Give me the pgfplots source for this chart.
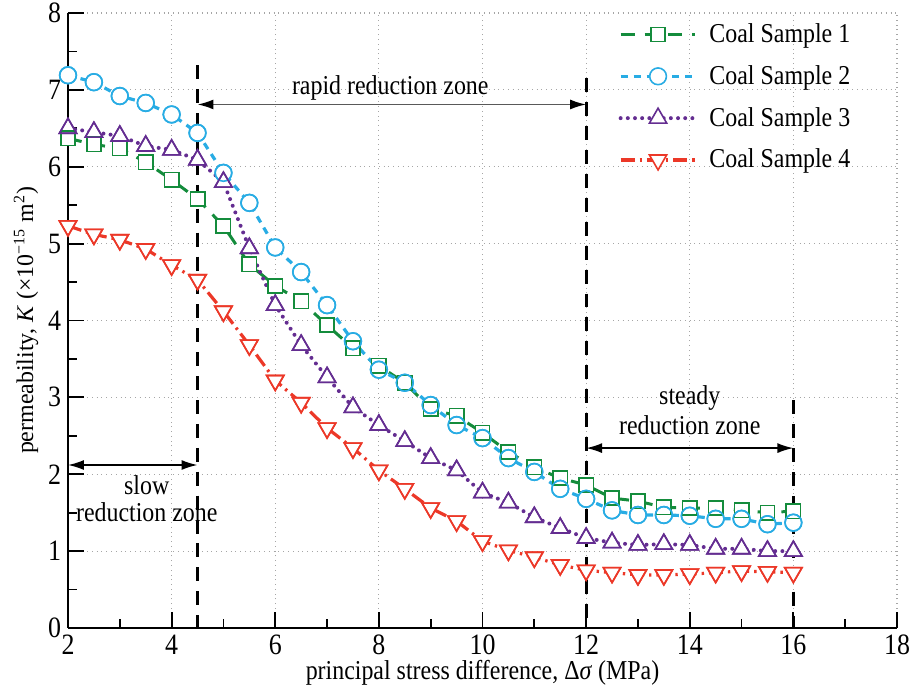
\documentclass[border=0pt]{standalone}
\usepackage{pgfplots}
\pgfplotsset{compat=1.18}
\usepackage{pgfplotstable}
\usepackage{graphicx}
\usepackage{fontspec}
\setmainfont{Liberation Serif}
\usetikzlibrary{arrows.meta}
\newcommand{\ST}[1]{\scalebox{1}[1.14]{#1}}
\definecolor{cgreen}{RGB}{20,140,60}
\definecolor{cblue}{RGB}{40,172,228}
\definecolor{cpurple}{RGB}{100,45,145}
\definecolor{cred}{RGB}{236,56,40}
\pgfplotstableread{
x s1 s2 s3 s4
2 6.37 7.19 6.50 5.23
2.5 6.29 7.10 6.45 5.12
3 6.24 6.92 6.40 5.05
3.5 6.06 6.83 6.27 4.93
4 5.83 6.68 6.22 4.72
4.5 5.58 6.44 6.09 4.53
5 5.23 5.92 5.80 4.12
5.5 4.73 5.53 4.94 3.68
6 4.45 4.95 4.20 3.22
6.5 4.25 4.63 3.68 2.93
7 3.94 4.20 3.26 2.60
7.5 3.64 3.73 2.87 2.34
8 3.41 3.36 2.64 2.05
8.5 3.19 3.19 2.43 1.81
9 2.85 2.90 2.21 1.56
9.5 2.76 2.64 2.05 1.39
10 2.54 2.47 1.76 1.13
10.5 2.29 2.21 1.63 1.01
11 2.09 2.03 1.44 0.92
11.5 1.95 1.81 1.30 0.82
12 1.86 1.68 1.17 0.75
12.5 1.69 1.53 1.11 0.72
13 1.65 1.47 1.08 0.69
13.5 1.57 1.47 1.09 0.69
14 1.56 1.46 1.08 0.70
14.5 1.56 1.42 1.03 0.72
15 1.53 1.42 1.03 0.74
15.5 1.50 1.35 1.00 0.73
16 1.52 1.37 1.00 0.72
}\data
\begin{document}
\begin{tikzpicture}
\begin{axis}[
  scale only axis,
  width=414.5bp, height=307.5bp,
  xmin=2, xmax=18, ymin=0, ymax=8,
  axis x line=bottom, axis y line=left,
  axis line style={-, line width=1.2pt},
  xtick={2,4,...,18}, ytick={0,1,...,8},
  minor x tick num=1, minor y tick num=1,
  tick align=inside,
  major tick length=8bp, minor tick length=4.5bp,
  xtick style={line width=0.9pt, black},
  ytick style={line width=0.9pt, black},
  grid=major,
  major grid style={gray!70, dotted, line width=0.6pt},
  /pgf/number format/assume math mode=true,
  tick label style={font=\fontsize{13}{13}\selectfont},
  xticklabel={\ST{\pgfmathprintnumber{\tick}}},
  yticklabel={\ST{\pgfmathprintnumber{\tick}}},
  label style={font=\fontsize{12}{14}\selectfont},
  xlabel={\ST{principal stress difference, Δ\textit{σ} (MPa)}},
  ylabel={permeability, \textit{K} (×10\textsuperscript{−15} m\textsuperscript{2})},
  xlabel style={yshift=4pt},
  ylabel style={yshift=-2pt},
  clip=false,
  legend style={at={(axis cs:12.62,7.92)}, anchor=north west, draw=none, fill=none,
    font=\fontsize{12}{14}\selectfont, row sep=6pt, inner sep=0pt,
    /tikz/every even column/.append style={column sep=0pt}},
  legend cell align=left,
  legend image code/.code={\draw[mark repeat=2,mark phase=2] plot coordinates {(0cm,0cm)(0.66cm,0cm)(1.32cm,0cm)};},
]
% pass 1: lines with white-filled marks (hide the lines inside the marks)
\addplot[cgreen, line width=1.5pt, dash pattern=on 7pt off 5pt, mark=square*, mark size=3.6pt,
  mark options={solid, line width=0.8pt, fill=white, draw=cgreen}] table[x=x,y=s1]{\data};
\addlegendentry{\hspace{4bp}\ST{Coal Sample 1}}
\addplot[cblue, line width=1.6pt, dash pattern=on 3.5pt off 3pt, mark=*, mark size=4.2pt,
  mark options={solid, line width=0.8pt, fill=white, draw=cblue}] table[x=x,y=s2]{\data};
\addlegendentry{\hspace{4bp}\ST{Coal Sample 2}}
\addplot[cpurple, line width=2pt, line cap=round, dash pattern=on 0pt off 3.6pt, mark=triangle*, mark size=5pt,
  mark options={solid, line width=0.8pt, fill=white, draw=cpurple}] table[x=x,y=s3]{\data};
\addlegendentry{\hspace{4bp}\ST{Coal Sample 3}}
\addplot[cred, line width=1.6pt, dash pattern=on 7pt off 2.5pt on 1.2pt off 2.5pt, mark=triangle*, mark size=5pt,
  mark options={solid, line width=0.8pt, fill=white, draw=cred, rotate=180}] table[x=x,y=s4]{\data};
\addlegendentry{\hspace{4bp}\ST{Coal Sample 4}}
% pass 2: hollow outlines of all marks on top
\addplot[forget plot, only marks, cgreen, mark=square, mark size=3.6pt, mark options={solid, line width=0.8pt}] table[x=x,y=s1]{\data};
\addplot[forget plot, only marks, cblue, mark=o, mark size=4.2pt, mark options={solid, line width=0.8pt}] table[x=x,y=s2]{\data};
\addplot[forget plot, only marks, cpurple, mark=triangle, mark size=5pt, mark options={solid, line width=0.8pt}] table[x=x,y=s3]{\data};
\addplot[forget plot, only marks, cred, mark=triangle, mark size=5pt, mark options={solid, line width=0.8pt, rotate=180}] table[x=x,y=s4]{\data};
% zone boundaries (drawn top-down so each begins with a dash)
\draw[black, line width=1.5pt, dash pattern=on 7pt off 5pt] (axis cs:4.5,7.32) -- (axis cs:4.5,0);
\draw[black, line width=1.5pt, dash pattern=on 7pt off 5pt] (axis cs:12,7.15) -- (axis cs:12,0);
\draw[black, line width=1.5pt, dash pattern=on 7pt off 5pt] (axis cs:16,2.96) -- (axis cs:16,0);
% arrows
\draw[gray!70!black, line width=0.8pt, {Latex[length=8pt,width=5pt,black]}-{Latex[length=8pt,width=5pt,black]}] (axis cs:4.5,6.81) -- (axis cs:12,6.81);
\draw[black, line width=0.8pt, {Latex[length=8pt,width=5pt]}-{Latex[length=8pt,width=5pt]}] (axis cs:12,2.34) -- (axis cs:16,2.34);
\draw[black, line width=0.8pt, {Latex[length=8pt,width=5pt]}-{Latex[length=8pt,width=5pt]}] (axis cs:2,2.12) -- (axis cs:4.5,2.12);
\node[font=\fontsize{12}{14}\selectfont] at (axis cs:8.22,7.03) {\ST{rapid reduction zone}};
\node[font=\fontsize{12}{14}\selectfont] at (axis cs:14.0,2.99) {\ST{steady}};
\node[font=\fontsize{12}{14}\selectfont] at (axis cs:14.0,2.64) {\ST{reduction zone}};
\node[font=\fontsize{12}{14}\selectfont] at (axis cs:3.52,1.86) {\ST{slow}};
\node[font=\fontsize{12}{14}\selectfont] at (axis cs:3.52,1.50) {\ST{reduction zone}};
\coordinate (O) at (rel axis cs:0,0);
\coordinate (E) at (rel axis cs:1,1);
\end{axis}
\pgfresetboundingbox
\path ([shift={(-34bp,-30bp)}]O) rectangle ([shift={(6bp,6.5bp)}]E);
\end{tikzpicture}
\end{document}
